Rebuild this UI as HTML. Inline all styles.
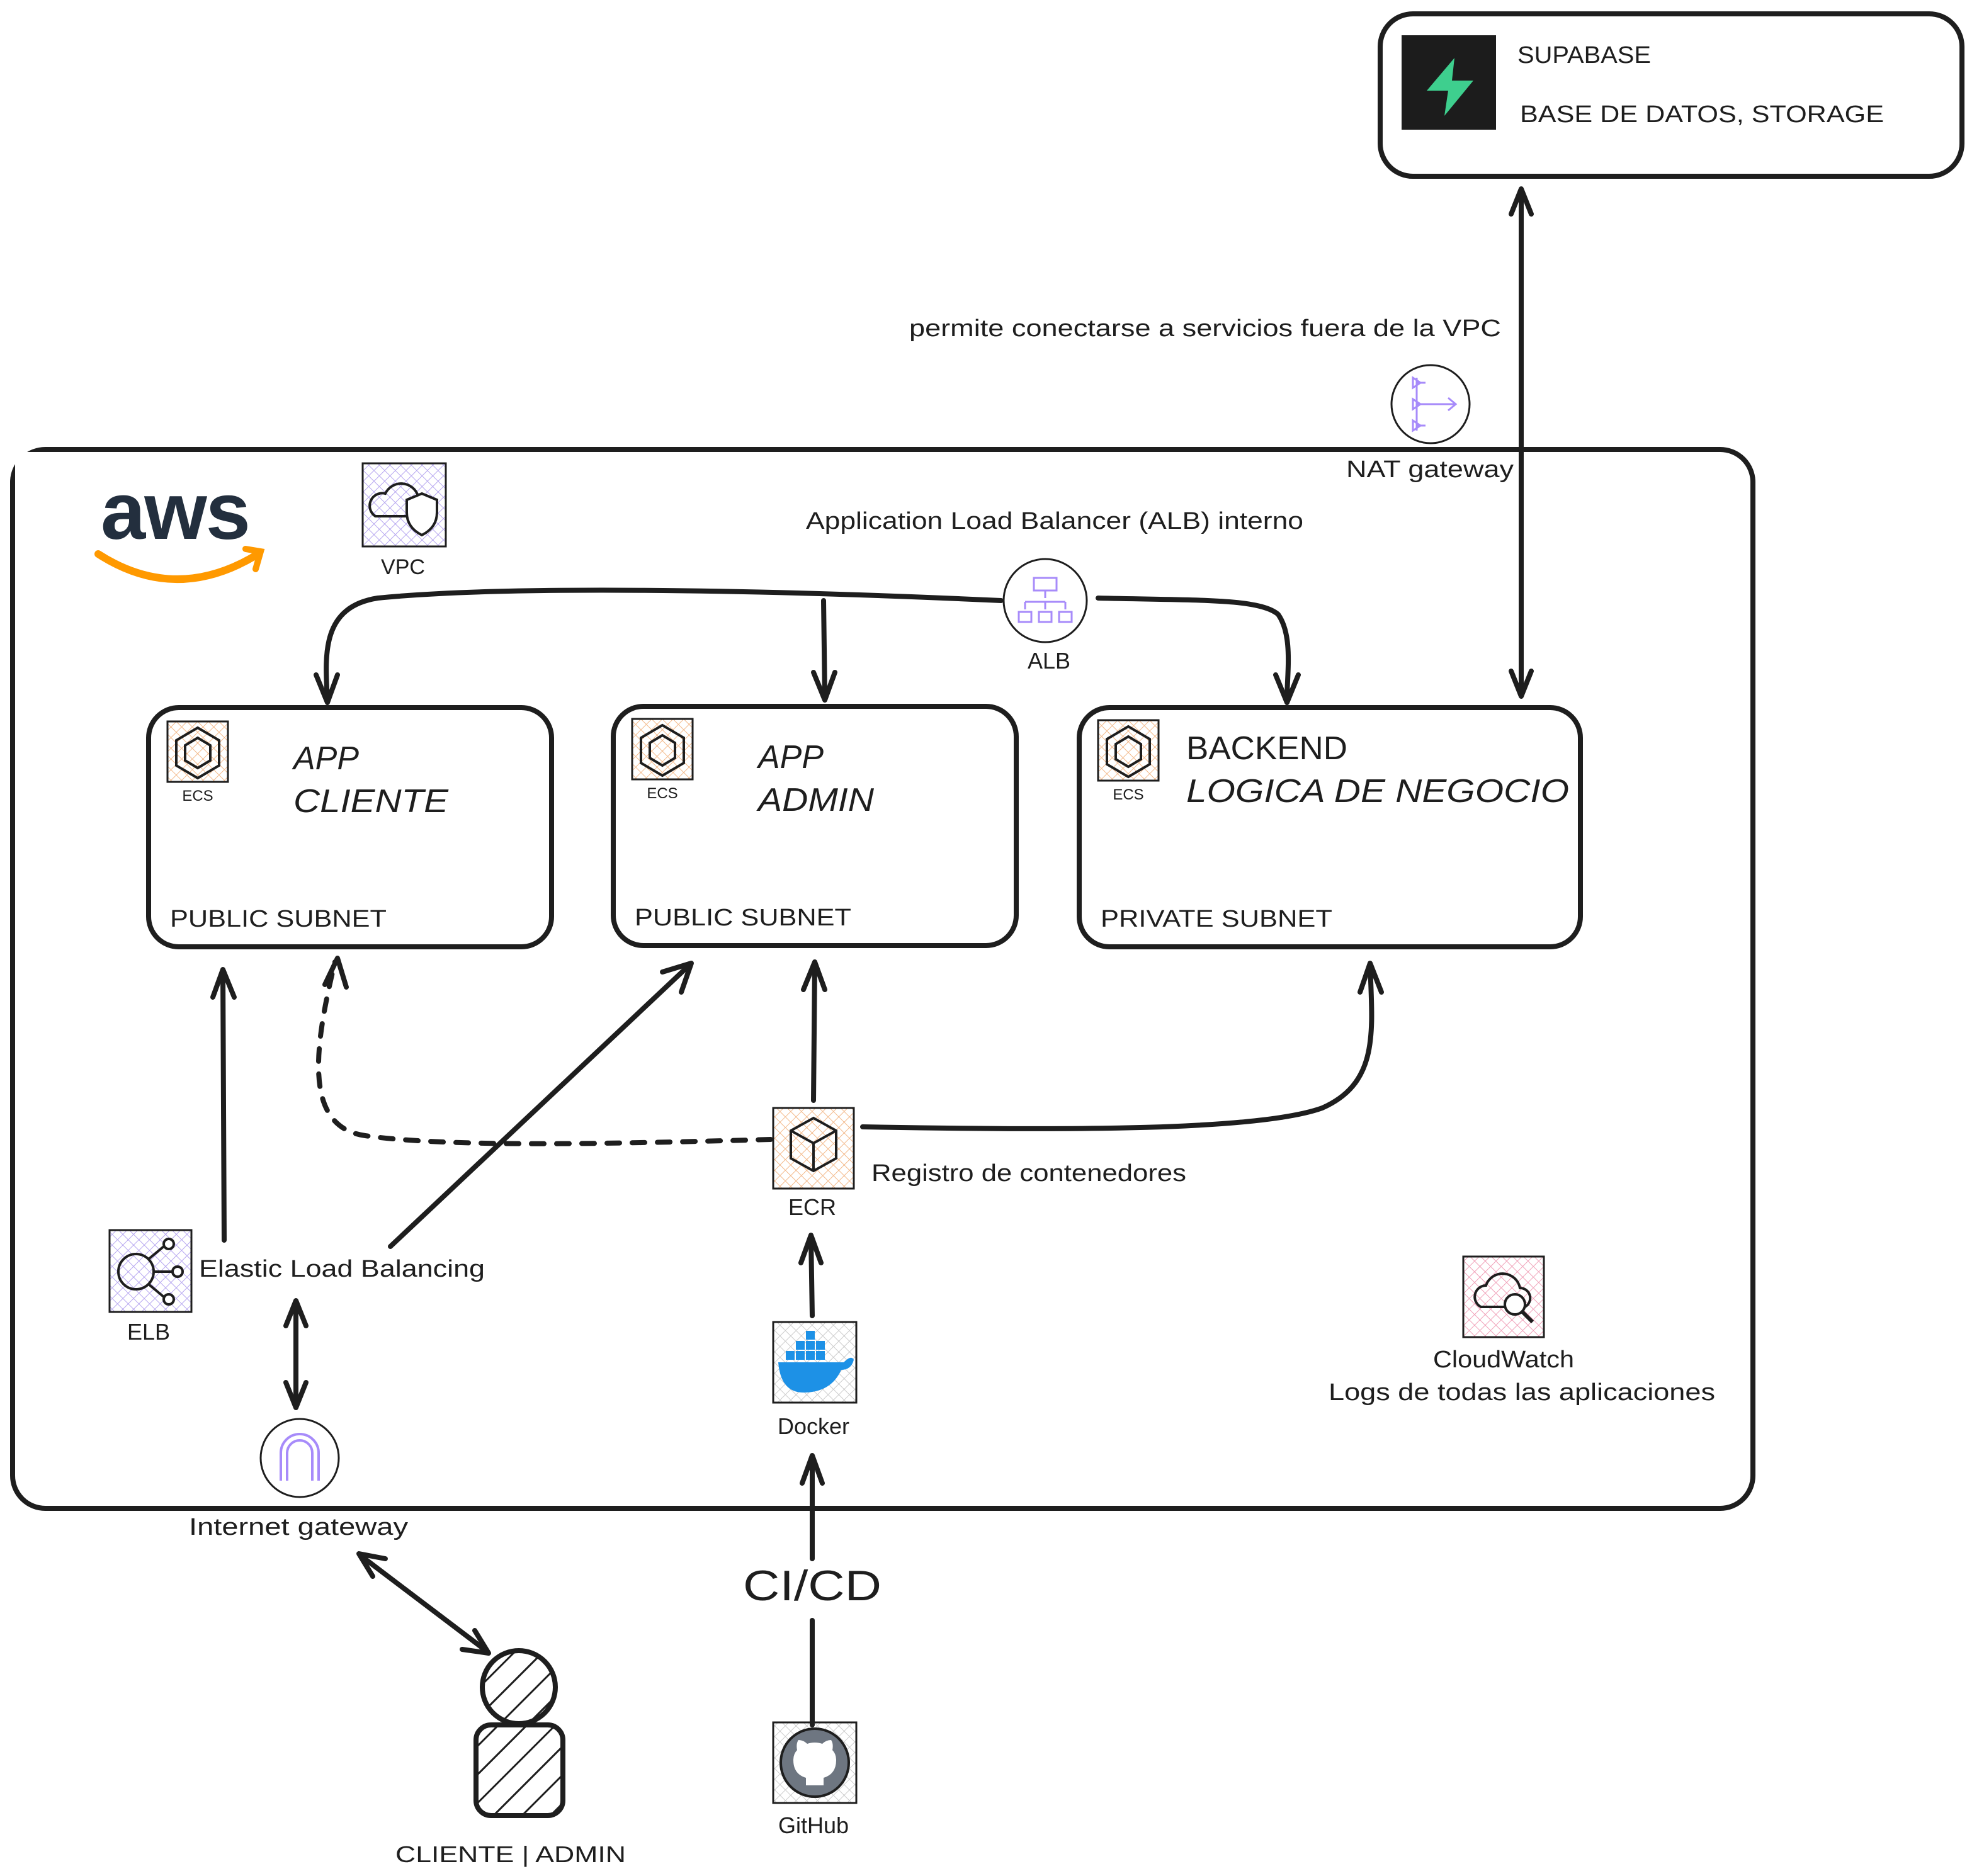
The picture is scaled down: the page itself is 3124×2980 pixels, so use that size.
<!DOCTYPE html>
<html><head><meta charset="utf-8"><style>
html,body{margin:0;padding:0;background:#fff;}
svg{display:block;}
text{font-family:"Liberation Sans","DejaVu Sans",sans-serif;fill:#1e1e1e;}
</style></head><body>
<svg width="3124" height="2980" viewBox="0 0 1562 1490" xmlns="http://www.w3.org/2000/svg">
<defs>
<pattern id="hp" width="6" height="6" patternUnits="userSpaceOnUse" patternTransform="rotate(45)"><line x1="0" y1="0" x2="0" y2="6" stroke="#b6a6f0" stroke-width="1"/><line x1="0" y1="0" x2="6" y2="0" stroke="#b6a6f0" stroke-width="1"/></pattern>
<pattern id="ho" width="6" height="6" patternUnits="userSpaceOnUse" patternTransform="rotate(45)"><line x1="0" y1="0" x2="0" y2="6" stroke="#f3b98a" stroke-width="1"/><line x1="0" y1="0" x2="6" y2="0" stroke="#f3b98a" stroke-width="1"/></pattern>
<pattern id="hr" width="6" height="6" patternUnits="userSpaceOnUse" patternTransform="rotate(45)"><line x1="0" y1="0" x2="0" y2="6" stroke="#f0a0b8" stroke-width="1"/><line x1="0" y1="0" x2="6" y2="0" stroke="#f0a0b8" stroke-width="1"/></pattern>
<pattern id="hg" width="6" height="6" patternUnits="userSpaceOnUse" patternTransform="rotate(45)"><line x1="0" y1="0" x2="0" y2="6" stroke="#ccc" stroke-width="1"/><line x1="0" y1="0" x2="6" y2="0" stroke="#ccc" stroke-width="1"/></pattern>
<pattern id="hb" width="16" height="16" patternUnits="userSpaceOnUse" patternTransform="rotate(45)"><line x1="0" y1="0" x2="0" y2="16" stroke="#1e1e1e" stroke-width="3"/></pattern>
</defs>

<g fill="none" stroke="#1e1e1e" stroke-width="4" stroke-linecap="round" stroke-linejoin="round">
<rect x="1096" y="11" width="462" height="129" rx="26"/>
<rect x="10" y="357" width="1382" height="841" rx="26"/>
<rect x="118" y="562" width="320" height="190" rx="24"/>
<rect x="487" y="561" width="320" height="190" rx="24"/>
<rect x="857" y="562" width="398" height="190" rx="24"/>

<path d="M1208 152 L1208 551"/>
<path d="M1200 170 L1208 150 L1216 170"/><path d="M1200 533 L1208 553 L1216 533"/>

<path d="M795 477 C600 468 400 465 300 475 C255 482 258 520 260 556"/>
<path d="M251 536 L260 558 L268 536"/>
<path d="M654 477 L655 554"/><path d="M646 534 L655 556 L663 534"/>
<path d="M872 475 C950 477 1000 475 1015 488 C1027 505 1022 535 1022 556"/>
<path d="M1013 536 L1022 558 L1031 536"/>

<path d="M178 985 L177 772"/><path d="M169 792 L177 770 L186 792"/>
<path d="M310 990 L548 766"/><path d="M526 772 L549 765 L541 788"/>
<path d="M235 1035 L235 1116"/><path d="M227 1053 L235 1033 L243 1053"/><path d="M227 1098 L235 1118 L243 1098"/>
<path d="M287 1236 L386 1311"/><path d="M306 1238 L285 1234 L296 1252"/><path d="M367 1310 L388 1313 L377 1295"/>

<path d="M612 905 C500 908 360 912 290 902 C240 895 250 830 266 764" stroke-dasharray="10 10"/>
<path d="M258 782 L268 761 L275 784"/>
<path d="M646 874 L647 766"/><path d="M638 786 L647 764 L655 786"/>
<path d="M685 895 C850 898 1000 898 1050 880 C1095 860 1090 820 1088 767"/>
<path d="M1080 788 L1088 765 L1097 788"/>
<path d="M645 1045 L644 983"/><path d="M636 1003 L644 981 L652 1003"/>
<path d="M645 1238 L645 1158"/><path d="M637 1178 L645 1156 L653 1178"/>
<path d="M645 1287 L645 1370"/>
</g>

<rect x="1113" y="28" width="75" height="75" fill="#1c1c1c"/>
<path d="M1155 46 L1133 72 L1150 72 L1147 92 L1170 64 L1153 64 Z" fill="#3ecf8e"/>
<text x="1205" y="50" font-size="19" textLength="106" lengthAdjust="spacingAndGlyphs">SUPABASE</text>
<text x="1207" y="97" font-size="19" textLength="289" lengthAdjust="spacingAndGlyphs">BASE DE DATOS, STORAGE</text>

<text x="722" y="267" font-size="19" textLength="470" lengthAdjust="spacingAndGlyphs">permite conectarse a servicios fuera de la VPC</text>

<circle cx="1136" cy="321" r="31" fill="#fff" stroke="#1e1e1e" stroke-width="1.5"/>
<g stroke="#a78bfa" stroke-width="1.5" fill="none"><path d="M1125 300 L1125 342 M1125 321 L1155 321 M1125 304 L1132 304 M1125 338 L1132 338"/><path d="M1122 300 l6 4 l-6 4 z M1122 317 l6 4 l-6 4 z M1122 334 l6 4 l-6 4 z M1150 316 L1156 321 L1150 326"/></g>
<text x="1069" y="379" font-size="19" textLength="133" lengthAdjust="spacingAndGlyphs">NAT gateway</text>

<rect x="12" y="359" width="248" height="110" fill="#fff"/>
<text x="80" y="428" font-size="64" font-weight="bold" style="fill:#232f3e" letter-spacing="-1">aws</text>
<path d="M78 440 Q140 480 205 440" fill="none" stroke="#ff9900" stroke-width="6" stroke-linecap="round"/>
<path d="M195 436 L207 438 L203 452" fill="none" stroke="#ff9900" stroke-width="5" stroke-linecap="round"/>

<rect x="288" y="368" width="66" height="66" fill="url(#hp)" stroke="#1e1e1e" stroke-width="1.5"/>
<path d="M298 410 a10 10 0 0 1 8 -18 a14 14 0 0 1 26 2 a10 10 0 0 1 8 16 z" fill="none" stroke="#1e1e1e" stroke-width="2"/>
<path d="M335 392 l12 5 v10 q0 12 -12 18 q-12 -6 -12 -18 v-10 z" fill="#fff" stroke="#1e1e1e" stroke-width="2"/>
<text x="320" y="456" font-size="17" text-anchor="middle">VPC</text>

<text x="640" y="420" font-size="19" textLength="395" lengthAdjust="spacingAndGlyphs">Application Load Balancer (ALB) interno</text>
<circle cx="830" cy="477" r="33" fill="#fff" stroke="#1e1e1e" stroke-width="1.5"/>
<g stroke="#a78bfa" stroke-width="1.5" fill="none"><rect x="821" y="459" width="18" height="10"/><path d="M830 469 v6 M814 478 h32 M814 478 v6 M830 478 v6 M846 478 v6"/><rect x="809" y="486" width="10" height="8"/><rect x="825" y="486" width="10" height="8"/><rect x="841" y="486" width="10" height="8"/></g>
<text x="833" y="531" font-size="18" text-anchor="middle">ALB</text>

<g id="ecs">
<rect x="133" y="573" width="48" height="48" fill="url(#ho)" stroke="#1e1e1e" stroke-width="1.5"/>
<path d="M157 578 l17 10 v20 l-17 10 l-17 -10 v-20 z M157 586 l10 6 v12 l-10 6 l-10 -6 v-12 z" fill="none" stroke="#1e1e1e" stroke-width="2"/>
</g>
<use href="#ecs" x="369" y="-2"/>
<use href="#ecs" x="739" y="-1"/>
<text x="157" y="636" font-size="12" text-anchor="middle">ECS</text>
<text x="526" y="634" font-size="12" text-anchor="middle">ECS</text>
<text x="896" y="635" font-size="12" text-anchor="middle">ECS</text>

<text x="233" y="611" font-size="26" font-style="italic" textLength="52" lengthAdjust="spacingAndGlyphs">APP</text>
<text x="233" y="645" font-size="26" font-style="italic" textLength="123" lengthAdjust="spacingAndGlyphs">CLIENTE</text>
<text x="602" y="610" font-size="26" font-style="italic" textLength="52" lengthAdjust="spacingAndGlyphs">APP</text>
<text x="602" y="644" font-size="26" font-style="italic" textLength="92" lengthAdjust="spacingAndGlyphs">ADMIN</text>
<text x="942" y="603" font-size="26" textLength="128" lengthAdjust="spacingAndGlyphs">BACKEND</text>
<text x="942" y="637" font-size="26" font-style="italic" textLength="304" lengthAdjust="spacingAndGlyphs">LOGICA DE NEGOCIO</text>
<text x="135" y="736" font-size="19" textLength="172" lengthAdjust="spacingAndGlyphs">PUBLIC SUBNET</text>
<text x="504" y="735" font-size="19" textLength="172" lengthAdjust="spacingAndGlyphs">PUBLIC SUBNET</text>
<text x="874" y="736" font-size="19" textLength="184" lengthAdjust="spacingAndGlyphs">PRIVATE SUBNET</text>

<rect x="87" y="977" width="65" height="65" fill="url(#hp)" stroke="#1e1e1e" stroke-width="1.5"/>
<g fill="none" stroke="#1e1e1e" stroke-width="2"><circle cx="108" cy="1010" r="14"/><path d="M122 1010 h16 M118 1000 l12 -10 M118 1020 l12 10"/><circle cx="134" cy="988" r="4" fill="#fff"/><circle cx="141" cy="1010" r="4" fill="#fff"/><circle cx="134" cy="1032" r="4" fill="#fff"/></g>
<text x="118" y="1064" font-size="18" text-anchor="middle">ELB</text>
<text x="158" y="1014" font-size="19" textLength="227" lengthAdjust="spacingAndGlyphs">Elastic Load Balancing</text>

<circle cx="238" cy="1158" r="31" fill="#fff" stroke="#1e1e1e" stroke-width="1.5"/>
<path d="M223 1176 v-22 a15 15 0 0 1 30 0 v22 M228 1176 v-22 a10 10 0 0 1 20 0 v22" fill="none" stroke="#a78bfa" stroke-width="2"/>
<text x="150" y="1219" font-size="19" textLength="174" lengthAdjust="spacingAndGlyphs">Internet gateway</text>

<circle cx="412" cy="1340" r="29" fill="url(#hb)" stroke="#1e1e1e" stroke-width="4"/>
<rect x="378" y="1370" width="69" height="72" rx="12" fill="url(#hb)" stroke="#1e1e1e" stroke-width="4"/>
<text x="314" y="1479" font-size="18" textLength="183" lengthAdjust="spacingAndGlyphs">CLIENTE | ADMIN</text>

<rect x="614" y="880" width="64" height="64" fill="url(#ho)" stroke="#1e1e1e" stroke-width="1.5"/>
<path d="M646 888 l18 10 v22 l-18 10 l-18 -10 v-22 z M628 898 l18 10 l18 -10 M646 908 v22" fill="none" stroke="#1e1e1e" stroke-width="2"/>
<text x="645" y="965" font-size="18" text-anchor="middle">ECR</text>
<text x="692" y="938" font-size="19" textLength="250" lengthAdjust="spacingAndGlyphs">Registro de contenedores</text>

<rect x="614" y="1050" width="66" height="64" fill="url(#hg)" stroke="#1e1e1e" stroke-width="1.5"/>
<path d="M618 1082 h52 q6 -6 8 -2 q-2 8 -10 8 q-8 18 -30 18 q-18 0 -20 -24 z" fill="#1d91e6"/>
<g fill="#1d91e6"><rect x="624" y="1073" width="7" height="7"/><rect x="632" y="1073" width="7" height="7"/><rect x="640" y="1073" width="7" height="7"/><rect x="648" y="1073" width="7" height="7"/><rect x="632" y="1065" width="7" height="7"/><rect x="640" y="1065" width="7" height="7"/><rect x="648" y="1065" width="7" height="7"/><rect x="640" y="1057" width="7" height="7"/></g>
<text x="646" y="1139" font-size="18" text-anchor="middle">Docker</text>

<text x="590" y="1271" font-size="34" textLength="110" lengthAdjust="spacingAndGlyphs">CI/CD</text>

<rect x="614" y="1368" width="66" height="64" fill="url(#hg)" stroke="#1e1e1e" stroke-width="1.5"/>
<circle cx="647" cy="1400" r="27" fill="#6e7681" stroke="#1e1e1e" stroke-width="2"/>
<path d="M640 1418 v-6 q-10 -3 -10 -14 q0 -5 3 -8 q-1 -5 1 -8 q4 0 7 3 q6 -2 12 0 q3 -3 7 -3 q2 3 1 8 q3 3 3 8 q0 11 -10 14 v6 z" fill="#fff"/>
<text x="646" y="1456" font-size="18" text-anchor="middle">GitHub</text>

<rect x="1162" y="998" width="64" height="64" fill="url(#hr)" stroke="#1e1e1e" stroke-width="1.5"/>
<path d="M1176 1038 a9 9 0 0 1 4 -17 a14 14 0 0 1 27 2 a8 8 0 0 1 4 15 z" fill="none" stroke="#1e1e1e" stroke-width="2"/>
<circle cx="1203" cy="1036" r="8" fill="#fff" stroke="#1e1e1e" stroke-width="2"/><path d="M1209 1042 l8 8" stroke="#1e1e1e" stroke-width="3"/>
<text x="1138" y="1086" font-size="19" textLength="112" lengthAdjust="spacingAndGlyphs">CloudWatch</text>
<text x="1055" y="1112" font-size="19" textLength="307" lengthAdjust="spacingAndGlyphs">Logs de todas las aplicaciones</text>
</svg>
</body></html>
